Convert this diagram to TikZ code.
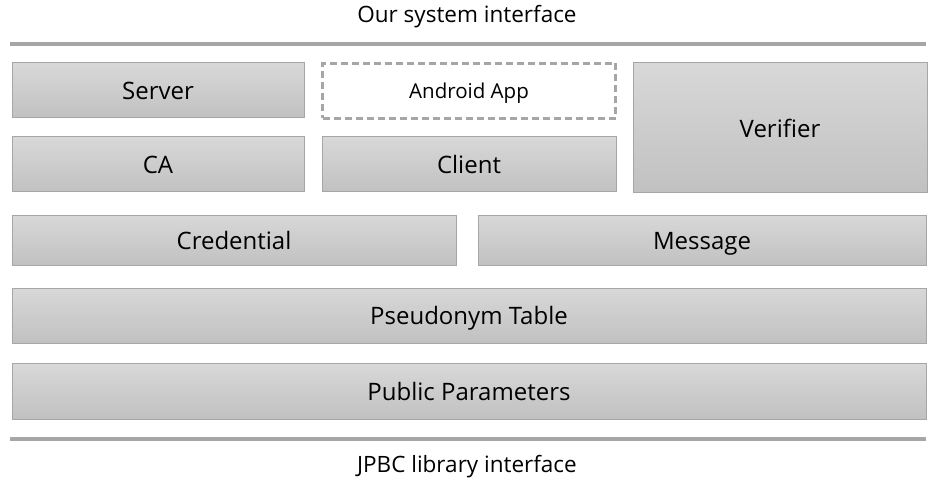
\documentclass[tikz,border=0pt]{standalone}
\usepackage{fontspec}
\setmainfont{Open Sans}
\usetikzlibrary{positioning}
\definecolor{boxtop}{RGB}{216,216,216}
\definecolor{boxbot}{RGB}{193,193,193}
\definecolor{boxline}{RGB}{166,166,166}
\tikzset{
    layer/.style={draw=boxline, line width=1pt, top color=boxtop, bottom color=boxbot,
        font=\fontsize{24}{28}\selectfont, inner sep=0pt, text height=19.5pt, text depth=1pt},
    applayer/.style={draw=boxline, dashed, dash pattern=on 7pt off 4pt, line width=2.2pt,
        fill=white, font=\fontsize{20.5}{24}\selectfont, inner sep=0pt, text height=15.6pt, text depth=1pt},
    ifbar/.style={draw=boxline, line width=4.5pt},
    iftext/.style={font=\fontsize{22.5}{26}\selectfont}
}
\begin{document}
\begin{tikzpicture}[x=1pt,y=-1pt]
        \useasboundingbox (0,0) rectangle (935,484);
        \node[iftext] (top) at (467,17) {Our system interface};
        \draw[ifbar] (10,44) -- (926,44);
        % upper row
        \node[layer, minimum width=292pt, minimum height=55pt] (server) at (158,90.5) {Server};
        \node[layer, minimum width=292pt, minimum height=55pt] (ca) at (158,164.5) {CA};
        \node[applayer, minimum width=293pt, minimum height=55pt] (app) at (469,91) {Android App};
        \node[layer, minimum width=294pt, minimum height=55pt] (client) at (469,164.5) {Client};
        \node[layer, minimum width=294pt, minimum height=130pt] (verifier) at (780,128) {Verifier};
        % middle rows
        \node[layer, minimum width=444pt, minimum height=50pt] (credential) at (234,240) {Credential};
        \node[layer, minimum width=448pt, minimum height=50pt] (message) at (702,240) {Message};
        \node[layer, minimum width=914pt, minimum height=55pt] (pseudonym) at (469,315.5) {Pseudonym Table};
        \node[layer, minimum width=914pt, minimum height=56pt] (params) at (469,391) {Public Parameters};
        \draw[ifbar] (10,439) -- (926,439);
        \node[iftext] (bottom) at (467,467) {JPBC library interface};
    \end{tikzpicture}
\end{document}
